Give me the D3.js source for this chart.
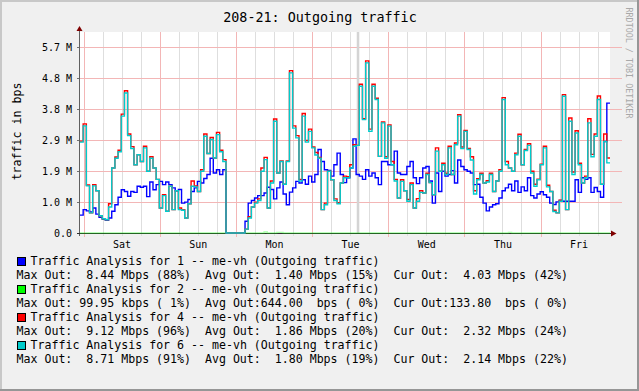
<!DOCTYPE html>
<html><head><meta charset="utf-8">
<script src="https://cdn.jsdelivr.net/npm/d3@7/dist/d3.min.js"></script>
<style>
html,body{margin:0;padding:0;background:#f0f0f0;}
svg{display:block;}
text{font-family:"DejaVu Sans Mono",monospace;white-space:pre;}
</style></head><body>
<svg id="c" width="639" height="391"></svg>
<script>
// ---------- data ----------
const title = "208-21: Outgoing traffic";
const yAxisLabel = "traffic in bps";
const watermark = "RRDTOOL / TOBI OETIKER";
const startTime = Date.UTC(2009, 0, 2, 22, 44); // first sample (Fri evening)
const sampleHours = 1;                          // one sample per hour
const totalHours = 167;
const yMax = 6.19;                              // M
const yTickValues = [0, 0.955, 1.91, 2.865, 3.82, 4.775, 5.73];
const yTickLabels = ["0.0", "1.0 M", "1.9 M", "2.9 M", "3.8 M", "4.8 M", "5.7 M"];
const unknownMarks = [87.2];                    // sample index of the grey band
const seriesNames = [
  "Traffic Analysis for 1 -- me-vh (Outgoing traffic)",
  "Traffic Analysis for 2 -- me-vh (Outgoing traffic)",
  "Traffic Analysis for 4 -- me-vh (Outgoing traffic)",
  "Traffic Analysis for 6 -- me-vh (Outgoing traffic)"
];
const seriesColors = ["#0000ff", "#00ff00", "#ff0000", "#00cccc"];
const statsLines = [
  "Max Out:  8.44 Mbps (88%)  Avg Out:  1.40 Mbps (15%)  Cur Out:  4.03 Mbps (42%)",
  "Max Out: 99.95 kbps ( 1%)  Avg Out:644.00  bps ( 0%)  Cur Out:133.80  bps ( 0%)",
  "Max Out:  9.12 Mbps (96%)  Avg Out:  1.86 Mbps (20%)  Cur Out:  2.32 Mbps (24%)",
  "Max Out:  8.71 Mbps (91%)  Avg Out:  1.80 Mbps (19%)  Cur Out:  2.14 Mbps (22%)"
];
// values in Mbit/s, hourly
const series1 = [0.55,0.72,0.68,0.65,0.77,0.58,0.48,0.43,0.39,0.46,
 0.67,0.87,1.1,1.33,1.28,1.13,1.28,1.25,1.44,1.41,
 1.44,1.12,1.57,1.33,1.49,1.59,1.49,1.57,1.49,1.39,
 1.3,1.34,0.92,0.95,1.03,1.28,1.39,1.59,1.54,1.68,
 1.8,2.3,1.85,1.95,1.8,1.95,0,0,0,0,
 0,0,0.36,0.92,1.0,1.08,1.15,1.15,1.23,1.41,
 1.34,1.05,1.39,1.57,1.2,0.87,1.26,1.39,1.59,1.54,
 1.64,1.5,1.75,1.57,1.8,2.57,2.2,1.95,1.93,1.75,
 2.1,2.46,1.8,1.55,1.7,2.0,2.9,1.8,1.75,1.65,
 1.95,1.75,1.85,1.7,1.49,2.2,2.2,2.1,2.1,2.52,
 1.85,1.8,1.8,2.05,2.2,1.7,1.52,1.7,2.0,2.05,
 1.6,0.92,1.85,1.28,1.9,1.75,1.8,1.92,1.54,2.25,
 2.05,1.95,1.9,1.85,1.49,1.5,1.1,0.92,0.68,0.8,
 0.87,0.9,1.08,1.3,1.39,1.5,1.3,1.6,1.25,1.42,
 1.3,1.7,1.15,1.08,1.2,1.27,1.18,1.1,0.92,0.88,
 0.96,1.0,0.98,0.98,0.98,0.98,1.64,1.25,1.7,1.65,
 1.7,1.25,1.4,1.28,1.1,2.82,4.0];
const series2 = [0,0,0,0,0,0,0,0,0,0,
 0,0,0,0,0,0,0,0,0,0,
 0,0,0,0,0,0,0,0,0,0,
 0,0,0,0,0,0,0,0,0,0,
 0,0,0,0,0,0,0,0,0,0,
 0,0,0,0,0,0,0,0,0.03,0,
 0,0,0.02,0.02,0,0,0,0,0,0,
 0,0,0,0,0,0,0,0,0,0,
 0,0,0,0,0,0,0,0,0,0,
 0,0,0,0,0,0,0,0,0,0,
 0,0,0,0,0,0,0,0,0,0,
 0,0,0,0,0,0,0,0,0,0,
 0,0,0,0,0,0,0,0,0,0,
 0,0,0,0,0,0.02,0,0,0,0,
 0,0,0,0,0,0,0,0,0,0,
 0,0,0,0,0,0,0,0,0,0,
 0,0,0,0,0,0,0];
const series4 = [2.83,3.36,1.48,0.62,1.49,1.3,0.53,0.44,0.41,0.9,
 2.0,2.34,2.55,3.66,4.38,3.05,2.66,2.1,2.41,2.2,
 2.67,1.9,2.35,2.0,1.65,0.77,1.18,0.67,1.44,0.72,
 1.3,0.77,0.72,0.46,0.9,1.6,1.45,1.28,1.95,3.05,
 2.45,2.94,2.31,3.1,2.55,2.26,0,0,0,0,
 0,0,0.12,0.5,0.8,0.95,1.05,2.0,2.33,0.77,
 1.6,3.51,1.85,2.22,1.5,2.22,5.0,3.3,3.0,1.65,
 3.68,2.85,3.2,2.65,2.48,2.33,0.72,0.92,1.9,1.64,
 1.05,0.93,1.54,1.75,1.73,2.1,2.72,2.7,4.58,3.52,
 5.3,3.2,4.58,4.15,2.36,3.42,2.35,3.33,2.2,1.65,
 1.08,1.64,1.3,1.03,1.54,0.77,1.06,1.3,1.23,1.84,
 1.55,1.18,2.62,1.9,2.15,1.84,2.67,1.8,2.77,3.64,
 2.65,3.16,2.6,2.35,1.3,1.67,1.84,1.54,1.61,1.84,
 1.28,1.6,1.95,4.17,2.2,2.0,1.9,2.46,3.04,2.1,
 2.57,2.75,1.9,1.5,1.66,2.12,2.67,1.47,1.28,0.7,
 0.62,1.01,4.26,0.72,3.54,1.88,3.15,2.15,1.54,1.75,
 3.52,2.42,3.05,4.22,1.5,3.05,2.31];
const series6 = [2.8,3.3,1.45,0.62,1.45,1.3,0.53,0.44,0.41,0.8,
 2.0,2.3,2.5,3.6,4.31,3.0,2.6,2.1,2.41,2.2,
 2.62,1.9,2.3,2.0,1.65,0.77,1.15,0.67,1.44,0.72,
 1.3,0.72,0.7,0.46,0.9,1.44,1.42,1.28,1.9,2.98,
 2.45,2.88,2.31,3.03,2.5,2.2,0,0,0,0,
 0,0,0.12,0.46,0.8,0.92,1.0,1.9,2.26,0.77,
 1.54,3.44,1.85,2.2,1.5,2.2,4.93,3.23,2.93,1.6,
 3.6,2.8,3.13,2.62,2.4,2.3,0.72,0.87,1.9,1.64,
 1.0,0.9,1.54,1.7,1.7,2.0,2.67,2.7,4.52,3.49,
 5.24,3.13,4.52,4.11,2.36,3.39,2.3,3.29,2.1,1.6,
 1.08,1.59,1.3,0.98,1.49,0.77,0.98,1.25,1.23,1.8,
 1.55,1.18,2.52,1.9,2.1,1.8,2.62,1.8,2.72,3.6,
 2.6,3.13,2.57,2.25,1.2,1.64,1.8,1.54,1.57,1.8,
 1.28,1.6,1.9,4.11,2.1,2.0,1.9,2.41,2.98,2.1,
 2.54,2.7,1.85,1.44,1.64,2.1,2.62,1.42,1.28,0.66,
 0.62,0.98,4.21,0.72,3.44,1.8,3.08,2.1,1.54,1.7,
 3.39,2.35,2.98,4.11,1.5,2.82,2.16];

// ---------- layout ----------
const W = 639, H = 391;
const PL = 80, PR = 610, PT = 32, PB = 233;
const HOUR = 3600e3;
const tEnd = startTime + totalHours * HOUR;
const x = d3.scaleUtc().domain([startTime, tEnd]).range([PL, PR]);
const y = d3.scaleLinear().domain([0, yMax]).range([PB, PT]);
const tOf = i => startTime + i * sampleHours * HOUR;
const px = v => Math.floor(v) + 0.5;
const py = v => Math.round(v) + 0.5;

const svg = d3.select("#c");
svg.append("rect").attr("width", W).attr("height", H).attr("fill", "#f0f0f0");
svg.append("rect").attr("x", 0).attr("y", 0).attr("width", W).attr("height", 2).attr("fill", "#c8c8c8");
svg.append("rect").attr("x", 0).attr("y", 0).attr("width", 2).attr("height", H).attr("fill", "#c8c8c8");
svg.append("rect").attr("x", 0).attr("y", H - 2).attr("width", W).attr("height", 2).attr("fill", "#969696");
svg.append("rect").attr("x", W - 2).attr("y", 0).attr("width", 2).attr("height", H).attr("fill", "#969696");

// canvas
svg.append("rect").attr("x", PL).attr("y", PT).attr("width", PR - PL).attr("height", PB - PT).attr("fill", "#ffffff");

// title
svg.append("text").attr("x", 320).attr("y", 21.7).attr("text-anchor", "middle")
  .attr("font-size", "13.4px").attr("fill", "#000").text(title);

// watermark
svg.append("text").attr("transform", "translate(625.5,7.5) rotate(90)")
  .attr("font-size", "8.4px").attr("fill", "#a8a8a8").text(watermark);

// y label
svg.append("text").attr("transform", "translate(20.5,131.5) rotate(-90)")
  .attr("text-anchor", "middle").attr("font-size", "11.6px").attr("fill", "#000").text(yAxisLabel);

// grid: minor verticals (6h)
const minorTimes = d3.utcHour.every(6).range(startTime, tEnd).filter(d => d.getUTCHours() !== 0);
const majorTimes = d3.utcDay.range(startTime, tEnd);
const g = svg.append("g");
g.selectAll(".minor").data(minorTimes).join("line")
  .attr("x1", d => px(x(d))).attr("x2", d => px(x(d)))
  .attr("y1", PT).attr("y2", PB + 3).attr("stroke", "#dedede").attr("stroke-width", 1);
// horizontal major
g.selectAll(".hg").data(yTickValues.filter(v => v > 0)).join("line")
  .attr("x1", PL).attr("x2", 622).attr("y1", d => py(y(d))).attr("y2", d => py(y(d)))
  .attr("stroke", "#f3b6b6").attr("stroke-width", 1);
// vertical major
g.selectAll(".major").data(majorTimes).join("line")
  .attr("x1", d => px(x(d))).attr("x2", d => px(x(d)))
  .attr("y1", PT).attr("y2", PB + 4).attr("stroke", "#f3b6b6").attr("stroke-width", 1);

// unknown band
g.selectAll(".unk").data(unknownMarks).join("rect")
  .attr("x", d => x(tOf(d))).attr("y", PT)
  .attr("width", d => x(tOf(d + 0.8)) - x(tOf(d))).attr("height", PB - PT)
  .attr("fill", "#d4d4d4");

// y ticks
g.selectAll(".yt").data(yTickValues).join("line")
  .attr("x1", 77).attr("x2", PL).attr("y1", d => py(y(d))).attr("y2", d => py(y(d)))
  .attr("stroke", "#707070");
svg.selectAll(".yl").data(yTickValues).join("text")
  .attr("x", 72).attr("y", d => Math.round(y(d)) + 4.2).attr("text-anchor", "end")
  .attr("font-size", "10px").attr("fill", "#000")
  .text((d, i) => yTickLabels[i]);

// day labels
const noonTimes = d3.utcHour.range(startTime, tEnd).filter(d => d.getUTCHours() === 12);
svg.selectAll(".dl").data(noonTimes).join("text")
  .attr("x", d => x(d)).attr("y", 248).attr("text-anchor", "middle")
  .attr("font-size", "10px").attr("fill", "#000")
  .text(d => d3.utcFormat("%a")(d));

// axes lines
svg.append("line").attr("x1", PL - 0.5).attr("x2", PL - 0.5).attr("y1", PB + 3).attr("y2", 29)
  .attr("stroke", "#606060");
svg.append("line").attr("x1", 77).attr("x2", 612).attr("y1", PB + 0.5).attr("y2", PB + 0.5)
  .attr("stroke", "#303030");

// series
const clip = svg.append("clipPath").attr("id", "cp");
clip.append("rect").attr("x", PL).attr("y", PT - 4).attr("width", PR - PL).attr("height", PB - PT + 6);
const line = d3.line().x(d => d[0]).y(d => d[1]).curve(d3.curveStepAfter);
function pts(arr) {
  const p = arr.map((v, i) => [x(tOf(i)), y(v)]);
  p.push([x(tEnd), y(arr[arr.length - 1])]);
  return p;
}
const sg = svg.append("g").attr("clip-path", "url(#cp)");
const allSeries = [series1, series2, series4, series6];
allSeries.forEach((s, k) => {
  sg.append("path").attr("d", line(pts(s))).attr("fill", "none")
    .attr("stroke", seriesColors[k])
    .attr("stroke-opacity", k === 1 ? 0.35 : 1)
    .attr("stroke-width", 1.4)
    .attr("stroke-linejoin", "miter");
});

// arrows
svg.append("path").attr("d", d3.line()([[PL - 3.5, 31], [PL - 0.5, 26], [PL + 2.5, 31]]) + "Z").attr("fill", "#7f0000");
svg.append("path").attr("d", d3.line()([[611, PB - 2.5], [616.5, PB + 0.5], [611, PB + 3.5]]) + "Z").attr("fill", "#7f0000");

// legend
const lg = svg.append("g");
seriesNames.forEach((name, k) => {
  const base = 265 + 28 * k;
  lg.append("rect").attr("x", 17.5).attr("y", base - 7.5).attr("width", 8).attr("height", 8)
    .attr("fill", seriesColors[k]).attr("stroke", "#000").attr("stroke-width", 1);
  lg.append("text").attr("x", 30.5).attr("y", base).attr("font-size", "11.6px").attr("fill", "#000")
    .attr("xml:space", "preserve").text(name);
  lg.append("text").attr("x", 16.5).attr("y", base + 14).attr("font-size", "11.6px").attr("fill", "#000")
    .attr("xml:space", "preserve").text(statsLines[k]);
});
</script>
</body></html>
